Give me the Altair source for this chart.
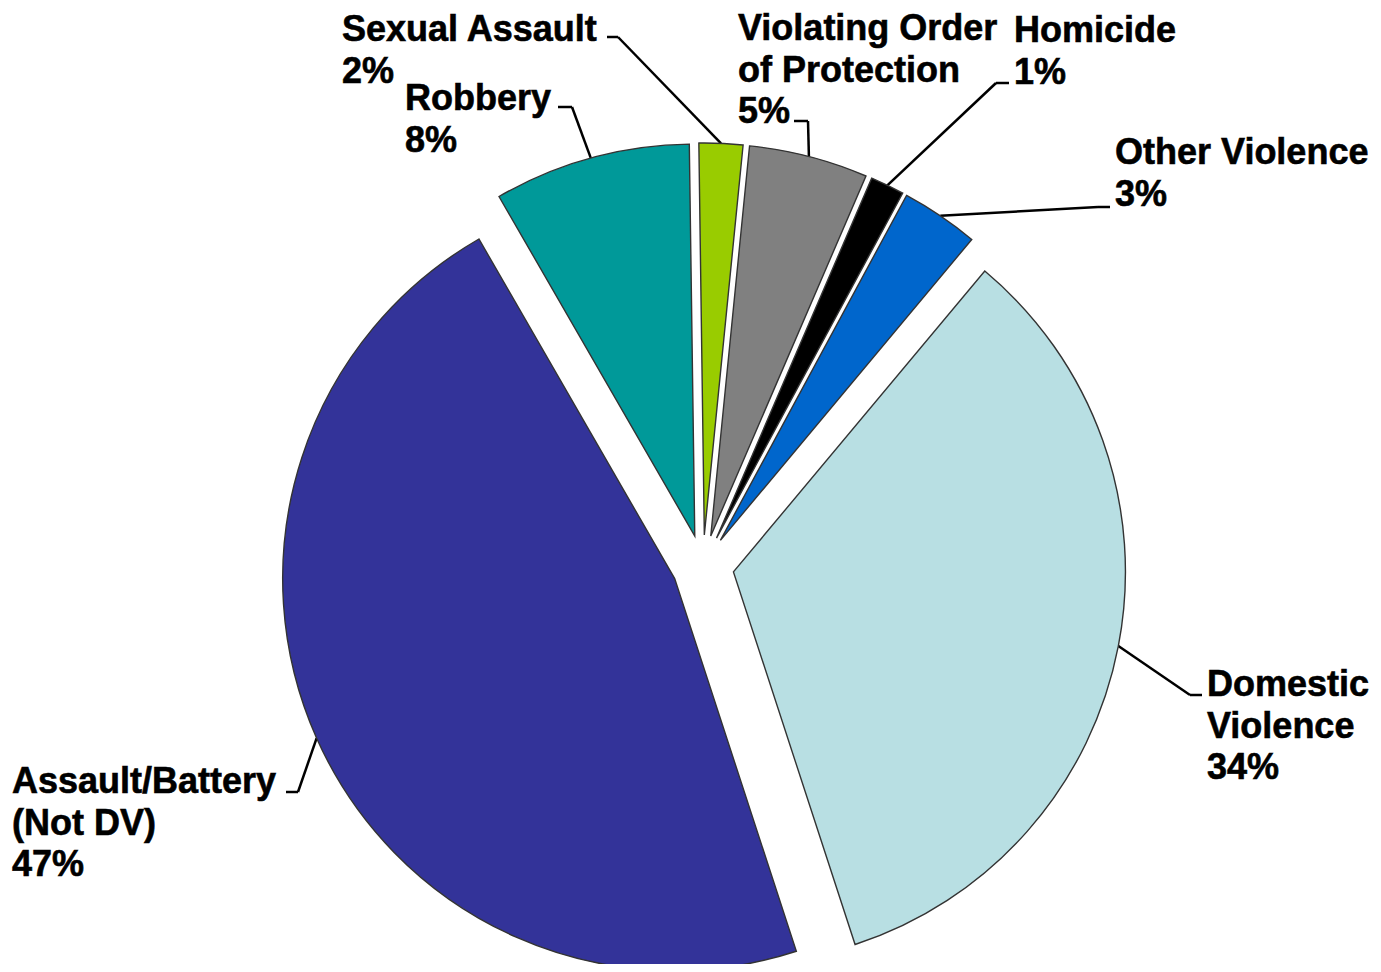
import altair as alt
import pandas as pd

# ---- data ----
categories = ["Sexual Assault", "Violating Order of Protection", "Homicide",
              "Other Violence", "Domestic Violence", "Assault/Battery (Not DV)", "Robbery"]
label_text = ["Sexual Assault", "Violating Order\nof Protection", "Homicide",
              "Other Violence", "Domestic\nViolence", "Assault/Battery\n(Not DV)", "Robbery"]
shares = [1.8, 4.9, 1.4, 3.2, 33.9, 46.7, 8.1]

# ---- styles ----
colors = ["#99CC00", "#808080", "#000000", "#0066CC", "#B8DFE3", "#333399", "#009999"]

# ---- layout (page pixels) ----
MARGIN = 8
CENTER_X, CENTER_Y = 703 - MARGIN, 566 - MARGIN
RADIUS = 392
EXPLODE = 31
START_DEG = -0.8
# label: text left x, first baseline y, elbow x/y, stub end x/y
label_layout = {
    "Sexual Assault": (342, 41, 618, 37, 607, 37),
    "Violating Order of Protection": (738, 40, 808, 121, 794, 121),
    "Homicide": (1014, 42, 996, 83, 1009, 83),
    "Other Violence": (1115, 164, 1098, 207, 1110, 207),
    "Domestic Violence": (1207, 696, 1190, 695, 1202, 695),
    "Assault/Battery (Not DV)": (12, 793, 298, 792, 286, 792),
    "Robbery": (405, 110, 572, 107, 558, 107),
}

rows = []
for i, (c, lt, s) in enumerate(zip(categories, label_text, shares)):
    tx, ty, ex, ey, sx, sy = label_layout[c]
    rows.append(dict(idx=i, category=c, name=lt, share=s,
                     tx=tx - MARGIN, ty=ty - MARGIN, ex=ex - MARGIN, ey=ey - MARGIN,
                     sx=sx - MARGIN, sy=sy - MARGIN))
df = pd.DataFrame(rows)

base = (
    alt.Chart(df)
    .transform_window(cum="sum(share)", sort=[alt.SortField("idx")], frame=[None, 0])
    .transform_joinaggregate(total="sum(share)")
    .transform_calculate(
        t0=f"{START_DEG}*PI/180 + 2*PI*(datum.cum - datum.share)/datum.total",
        t1=f"{START_DEG}*PI/180 + 2*PI*datum.cum/datum.total",
    )
    .transform_calculate(tm="(datum.t0 + datum.t1)/2")
    .transform_calculate(
        cx=f"{CENTER_X} + {EXPLODE}*sin(datum.tm)",
        cy=f"{CENTER_Y} - {EXPLODE}*cos(datum.tm)",
    )
    .transform_calculate(
        edge_x=f"datum.cx + {RADIUS}*sin(datum.tm)",
        edge_y=f"datum.cy - {RADIUS}*cos(datum.tm)",
        lab="datum.name + '\\n' + round(datum.share) + '%'",
    )
)

arcs = base.mark_arc(outerRadius=RADIUS, stroke="#333333", strokeWidth=1.4).encode(
    theta=alt.Theta("t0:Q", scale=None, stack=None),
    theta2="t1:Q",
    x=alt.X("cx:Q", scale=None, axis=None),
    y=alt.Y("cy:Q", scale=None, axis=None),
    color=alt.Color("category:N", scale=alt.Scale(domain=categories, range=colors), legend=None),
)

lead1 = base.mark_rule(color="black", strokeWidth=2.5).encode(
    x=alt.X("edge_x:Q", scale=None, axis=None),
    y=alt.Y("edge_y:Q", scale=None, axis=None),
    x2="ex:Q", y2="ey:Q",
)
lead2 = base.mark_rule(color="black", strokeWidth=2.5).encode(
    x=alt.X("ex:Q", scale=None, axis=None),
    y=alt.Y("ey:Q", scale=None, axis=None),
    x2="sx:Q", y2="sy:Q",
)

labels = base.mark_text(
    align="left", baseline="alphabetic", font="Liberation Sans", fontWeight="bold",
    fontSize=36, lineBreak="\n", lineHeight=41.5, color="black",
    stroke="black", strokeWidth=0.6,
).encode(
    x=alt.X("tx:Q", scale=None, axis=None),
    y=alt.Y("ty:Q", scale=None, axis=None),
    text="lab:N",
)

chart = (
    alt.layer(lead1, lead2, arcs, labels)
    .properties(width=1365, height=956, autosize=alt.AutoSizeParams(type="none"), padding=0)
    .configure_view(stroke=None)
)

chart.save("out.html", embed_options={"renderer": "svg", "actions": False})
